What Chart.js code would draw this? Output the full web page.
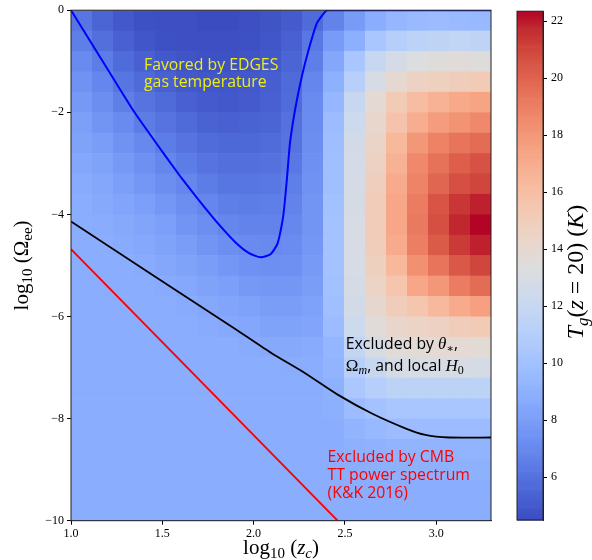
<!DOCTYPE html>
<html>
<head>
<meta charset="utf-8">
<script src="https://cdn.jsdelivr.net/npm/chart.js@4.4.1/dist/chart.umd.min.js"></script>
<style>
  html, body { margin: 0; padding: 0; background: #fff; }
  #wrap { position: relative; width: 592px; height: 560px; }
  #wrap canvas { position: absolute; left: 0; top: 0; }
</style>
</head>
<body>
<div id="wrap">
  <canvas id="main" width="592" height="560"></canvas>
  <canvas id="cbar" width="592" height="560"></canvas>
</div>
<script>
/* ---------- data ---------- */
const ZC_MIN = 1.0, ZC_MAX = 3.3;       // log10(z_c) range of the grid
const OM_MIN = -10, OM_MAX = 0;         // log10(Omega_ee) range of the grid
const TG_MIN = 4.5, TG_MAX = 22.35;     // colour range, K

const xTicks = [1.0, 1.5, 2.0, 2.5, 3.0];
const yTicks = [0, -2, -4, -6, -8, -10];
const cbTicks = [6, 8, 10, 12, 14, 16, 18, 20, 22];

// T_g(z=20) on a 20 (z_c) x 25 (Omega_ee) grid, rows from log10(Omega)=0 downwards
const tgRows = [
  [6.2, 5.5, 5.0, 4.7, 4.6, 4.6, 4.5, 4.5, 4.6, 4.8, 5.1, 5.7, 6.8, 7.9, 8.8, 9.4, 9.6, 9.7, 9.6, 9.5],
  [6.6, 5.9, 5.3, 4.9, 4.7, 4.6, 4.6, 4.6, 4.7, 4.9, 5.3, 6.3, 7.9, 8.9, 10.4, 11.1, 11.4, 11.6, 11.7, 11.6],
  [7.1, 6.5, 5.8, 5.3, 5.0, 4.8, 4.7, 4.7, 4.8, 5.0, 5.5, 6.6, 8.5, 10.4, 12.1, 12.8, 13.3, 13.5, 13.6, 13.5],
  [7.5, 6.9, 6.2, 5.7, 5.3, 5.0, 4.9, 4.9, 5.0, 5.2, 5.7, 6.9, 9.0, 11.2, 13.0, 14.0, 14.6, 14.8, 15.0, 15.2],
  [7.8, 7.3, 6.6, 6.1, 5.7, 5.3, 5.1, 5.0, 5.1, 5.3, 5.8, 7.1, 9.4, 12.1, 13.9, 15.2, 16.1, 16.7, 17.2, 17.4],
  [8.1, 7.6, 7.1, 6.5, 6.1, 5.7, 5.4, 5.3, 5.4, 5.5, 6.0, 7.2, 9.7, 12.4, 14.2, 15.7, 17.0, 17.8, 18.2, 18.6],
  [8.3, 8.0, 7.5, 7.0, 6.5, 6.1, 5.8, 5.6, 5.6, 5.8, 6.1, 7.3, 9.8, 12.7, 14.4, 16.4, 18.0, 18.9, 19.4, 19.7],
  [8.5, 8.3, 7.8, 7.4, 6.9, 6.5, 6.1, 5.9, 5.9, 6.0, 6.3, 7.4, 9.9, 12.8, 14.7, 16.7, 18.6, 19.5, 20.2, 20.6],
  [8.7, 8.5, 8.1, 7.7, 7.3, 6.9, 6.5, 6.2, 6.2, 6.3, 6.6, 7.5, 9.9, 12.8, 14.9, 17.1, 18.8, 19.9, 20.7, 21.0],
  [8.8, 8.6, 8.4, 8.1, 7.7, 7.3, 6.9, 6.6, 6.5, 6.6, 6.8, 7.6, 10.0, 12.9, 15.1, 17.3, 19.1, 20.5, 21.4, 21.9],
  [8.8, 8.75, 8.6, 8.4, 8.1, 7.6, 7.3, 6.9, 6.8, 6.8, 6.95, 7.6, 10.1, 13.0, 15.1, 17.3, 19.2, 20.7, 21.8, 22.35],
  [8.8, 8.8, 8.7, 8.55, 8.3, 8.0, 7.6, 7.3, 7.1, 7.05, 7.15, 7.7, 10.1, 13.0, 15.0, 17.1, 19.0, 20.3, 21.3, 21.9],
  [8.8, 8.8, 8.8, 8.7, 8.5, 8.3, 8.0, 7.7, 7.45, 7.35, 7.4, 7.85, 10.1, 13.0, 14.8, 16.4, 18.3, 19.4, 20.4, 21.0],
  [8.8, 8.8, 8.8, 8.8, 8.7, 8.55, 8.3, 8.1, 7.8, 7.7, 7.7, 8.0, 10.0, 12.9, 14.5, 15.6, 17.3, 18.0, 19.1, 19.7],
  [8.8, 8.8, 8.8, 8.8, 8.8, 8.7, 8.55, 8.4, 8.2, 8.0, 8.0, 8.2, 9.9, 12.7, 14.1, 15.0, 15.6, 16.3, 17.1, 17.6],
  [8.8, 8.8, 8.8, 8.8, 8.8, 8.8, 8.7, 8.6, 8.5, 8.3, 8.3, 8.4, 9.7, 12.4, 13.6, 14.2, 14.5, 14.7, 15.0, 15.2],
  [8.8, 8.8, 8.8, 8.8, 8.8, 8.8, 8.8, 8.8, 8.7, 8.6, 8.6, 8.7, 9.3, 11.8, 13.0, 13.6, 13.8, 13.9, 13.9, 13.8],
  [8.8, 8.8, 8.8, 8.8, 8.8, 8.8, 8.8, 8.8, 8.8, 8.8, 8.75, 8.8, 9.2, 11.2, 12.1, 12.9, 13.0, 13.0, 13.0, 12.9],
  [8.8, 8.8, 8.8, 8.8, 8.8, 8.8, 8.8, 8.8, 8.8, 8.8, 8.8, 8.8, 9.0, 10.5, 11.1, 11.5, 11.5, 11.5, 11.5, 11.5],
  [8.8, 8.8, 8.8, 8.8, 8.8, 8.8, 8.8, 8.8, 8.8, 8.8, 8.8, 8.8, 8.9, 9.7, 10.1, 10.4, 10.4, 10.4, 10.4, 10.4],
  [8.8, 8.8, 8.8, 8.8, 8.8, 8.8, 8.8, 8.8, 8.8, 8.8, 8.8, 8.8, 8.8, 9.2, 9.5, 9.7, 9.7, 9.7, 9.7, 9.7],
  [8.8, 8.8, 8.8, 8.8, 8.8, 8.8, 8.8, 8.8, 8.8, 8.8, 8.8, 8.8, 8.8, 9.0, 9.1, 9.2, 9.2, 9.2, 9.2, 9.2],
  [8.8, 8.8, 8.8, 8.8, 8.8, 8.8, 8.8, 8.8, 8.8, 8.8, 8.8, 8.8, 8.8, 8.8, 8.9, 9.0, 9.0, 9.0, 9.0, 9.0],
  [8.8, 8.8, 8.8, 8.8, 8.8, 8.8, 8.8, 8.8, 8.8, 8.8, 8.8, 8.8, 8.8, 8.8, 8.8, 8.8, 8.8, 8.8, 8.8, 8.8],
  [8.8, 8.8, 8.8, 8.8, 8.8, 8.8, 8.8, 8.8, 8.8, 8.8, 8.8, 8.8, 8.8, 8.8, 8.8, 8.8, 8.8, 8.8, 8.8, 8.8],
];

// "Favored by EDGES" contour (blue)
const edgesX = [1.0, 1.17, 1.342, 1.498, 1.571, 1.608, 1.691, 1.801, 1.910, 1.975, 2.038, 2.093, 2.130, 2.148, 2.163, 2.181, 2.199, 2.227, 2.264, 2.301, 2.346, 2.392, 2.405, 3.3];
const edgesY = [0, -0.98, -1.97, -2.76, -3.12, -3.30, -3.68, -4.16, -4.58, -4.76, -4.84, -4.78, -4.58, -4.32, -4.01, -3.36, -2.61, -1.95, -1.30, -0.78, -0.26, -0.03, 0, 0];
// theta_*, Omega_m, local H0 bound (black)
const thetaX = [1.0, 1.910, 2.099, 2.282, 2.465, 2.648, 2.831, 2.941, 3.070, 3.3];
const thetaY = [-4.14, -6.27, -6.72, -7.11, -7.54, -7.90, -8.19, -8.32, -8.37, -8.37];
// CMB TT bound, K&K 2016 (red)
const cmbX = [1.0, 2.46];
const cmbY = [-4.68, -10];

/* ---------- coolwarm ---------- */
const COOLWARM = [[59,76,192],[68,90,204],[77,104,215],[87,117,225],[98,130,234],[108,142,241],[119,154,247],[130,165,251],[141,176,254],[152,185,255],[163,194,255],[174,201,253],[184,208,249],[194,213,244],[204,217,238],[213,219,230],[221,221,221],[229,216,209],[236,211,197],[241,204,185],[245,196,173],[247,187,160],[247,177,148],[247,166,135],[244,154,123],[241,141,111],[236,127,99],[229,112,88],[222,96,77],[213,80,66],[203,62,56],[192,40,47],[180,4,38]];
function coolwarm(v) {
  let t = (v - TG_MIN) / (TG_MAX - TG_MIN);
  t = Math.min(1, Math.max(0, t)) * (COOLWARM.length - 1);
  const i = Math.min(COOLWARM.length - 2, Math.floor(t)), f = t - i;
  const a = COOLWARM[i], b = COOLWARM[i + 1];
  return `rgb(${a.map((c, k) => Math.round(c + (b[k] - c) * f)).join(",")})`;
}

const SERIF = '"Liberation Serif", "DejaVu Serif", serif';
const SANS = '"Open Sans", "DejaVu Sans", sans-serif';
const TICK_FONT = { family: SERIF, size: 12 };

/* rich text: segments with their own font and baseline shift */
function drawRich(ctx, segs, x, y, align) {
  let w = 0;
  segs.forEach((s) => { ctx.font = s.font; w += ctx.measureText(s.t).width; });
  let cx = align === "center" ? x - w / 2 : x;
  segs.forEach((s) => {
    ctx.font = s.font;
    ctx.fillText(s.t, cx, y + (s.dy || 0));
    cx += ctx.measureText(s.t).width;
  });
}

const pts = (xs, ys) => xs.map((x, i) => ({ x, y: ys[i] }));

const heatmapPlugin = {
  id: "heatmap",
  beforeDatasetsDraw(chart) {
    const { ctx, chartArea: a, scales: { x, y } } = chart;
    const nR = tgRows.length, nC = tgRows[0].length;
    const dx = (ZC_MAX - ZC_MIN) / nC, dy = (OM_MAX - OM_MIN) / nR;
    ctx.save();
    ctx.beginPath();
    ctx.rect(a.left, a.top, a.right - a.left, a.bottom - a.top);
    ctx.clip();
    tgRows.forEach((row, r) => row.forEach((v, c) => {
      const x0 = x.getPixelForValue(ZC_MIN + c * dx), x1 = x.getPixelForValue(ZC_MIN + (c + 1) * dx);
      const y0 = y.getPixelForValue(OM_MAX - r * dy), y1 = y.getPixelForValue(OM_MAX - (r + 1) * dy);
      ctx.fillStyle = coolwarm(v);
      ctx.fillRect(x0, y0, x1 - x0 + 0.6, y1 - y0 + 0.6);
    }));
    ctx.restore();
  },
  afterDraw(chart) {
    const { ctx, chartArea: a, scales: { x, y } } = chart;
    ctx.save();
    ctx.strokeStyle = "#222";
    ctx.lineWidth = 1;
    ctx.strokeRect(a.left, a.top, a.right - a.left, a.bottom - a.top);

    ctx.textBaseline = "alphabetic";
    // annotations
    const s = `15.8px ${SANS}`, m = `italic 17px ${SERIF}`, sub = `11px ${SERIF}`;
    ctx.fillStyle = "#eeee10";
    ctx.font = s;
    ctx.fillText("Favored by EDGES", x.getPixelForValue(1.40), y.getPixelForValue(-1.17));
    ctx.fillText("gas temperature", x.getPixelForValue(1.40), y.getPixelForValue(-1.51));

    ctx.fillStyle = "#000";
    drawRich(ctx, [{ t: "Excluded by ", font: s }, { t: "θ", font: m }, { t: "∗", font: sub, dy: 3 }, { t: ",", font: s }],
      x.getPixelForValue(2.505), y.getPixelForValue(-6.63));
    drawRich(ctx, [{ t: "Ω", font: `17px ${SERIF}` }, { t: "m", font: `italic 12px ${SERIF}`, dy: 3 }, { t: ", and local ", font: s },
      { t: "H", font: m }, { t: "0", font: `12px ${SERIF}`, dy: 3 }],
      x.getPixelForValue(2.505), y.getPixelForValue(-7.06));

    ctx.fillStyle = "#f00";
    ctx.font = s;
    ["Excluded by CMB", "TT power spectrum", "(K&K 2016)"].forEach((t, i) => {
      ctx.fillText(t, x.getPixelForValue(2.405), y.getPixelForValue(-8.85 - 0.355 * i));
    });

    // axis titles
    ctx.fillStyle = "#000";
    drawRich(ctx, [{ t: "log", font: `21px ${SERIF}` }, { t: "10", font: `15px ${SERIF}`, dy: 4 },
      { t: " (", font: `21px ${SERIF}` }, { t: "z", font: `italic 21px ${SERIF}` }, { t: "c", font: `italic 15px ${SERIF}`, dy: 4 },
      { t: ")", font: `21px ${SERIF}` }], (a.left + a.right) / 2, 554, "center");
    ctx.translate(28, (a.top + a.bottom) / 2);
    ctx.rotate(-Math.PI / 2);
    drawRich(ctx, [{ t: "log", font: `21px ${SERIF}` }, { t: "10", font: `15px ${SERIF}`, dy: 4 },
      { t: " (", font: `21px ${SERIF}` }, { t: "Ω", font: `21px ${SERIF}` }, { t: "ee", font: `15px ${SERIF}`, dy: 4 },
      { t: ")", font: `21px ${SERIF}` }], 0, 0, "center");
    ctx.restore();
  },
};

new Chart(document.getElementById("main"), {
  type: "scatter",
  data: {
    datasets: [
      { data: pts(edgesX, edgesY), showLine: true, borderColor: "#0000ff", borderWidth: 2, pointRadius: 0, tension: 0.2 },
      { data: pts(thetaX, thetaY), showLine: true, borderColor: "#000", borderWidth: 1.8, pointRadius: 0, tension: 0.2 },
      { data: pts(cmbX, cmbY), showLine: true, borderColor: "#ff0000", borderWidth: 1.8, pointRadius: 0 },
    ],
  },
  options: {
    responsive: false,
    animation: false,
    devicePixelRatio: 1,
    layout: { padding: { left: 0, top: 9, right: 101, bottom: 0 } },
    plugins: { legend: { display: false }, tooltip: { enabled: false } },
    scales: {
      x: {
        type: "linear", min: ZC_MIN, max: ZC_MAX,
        afterBuildTicks: (sc) => { sc.ticks = xTicks.map((v) => ({ value: v })); },
        afterFit: (sc) => { sc.height = 39.3; },
        ticks: { callback: (v) => v.toFixed(1), font: TICK_FONT, color: "#000", padding: 2, maxRotation: 0, autoSkip: false },
        grid: { drawOnChartArea: false, tickLength: 4, tickColor: "#000" },
        border: { display: true, color: "#222" },
      },
      y: {
        type: "linear", min: OM_MIN, max: OM_MAX,
        afterBuildTicks: (sc) => { sc.ticks = yTicks.map((v) => ({ value: v })); },
        afterFit: (sc) => { sc.width = 71; },
        ticks: { callback: (v) => (v < 0 ? "\u2212" + Math.abs(v) : String(v)), font: TICK_FONT, color: "#000", padding: 3, autoSkip: false },
        grid: { drawOnChartArea: false, tickLength: 4, tickColor: "#000" },
        border: { display: true, color: "#222" },
      },
    },
  },
  plugins: [heatmapPlugin],
});

/* ---------- colour bar ---------- */
const colorbarPlugin = {
  id: "colorbar",
  beforeDatasetsDraw(chart) {
    const { ctx, chartArea: a, scales: { y } } = chart;
    const n = 240, step = (TG_MAX - TG_MIN) / n;
    ctx.save();
    for (let i = 0; i < n; i++) {
      const v0 = TG_MIN + i * step, v1 = v0 + step;
      const p0 = y.getPixelForValue(v0), p1 = y.getPixelForValue(v1);
      ctx.fillStyle = coolwarm(v0 + step / 2);
      ctx.fillRect(a.left, p1, a.right - a.left, p0 - p1 + 0.6);
    }
    ctx.restore();
  },
  afterDraw(chart) {
    const { ctx, chartArea: a } = chart;
    ctx.save();
    ctx.strokeStyle = "#222";
    ctx.lineWidth = 1;
    ctx.strokeRect(a.left, a.top, a.right - a.left, a.bottom - a.top);
    ctx.fillStyle = "#000";
    ctx.textBaseline = "alphabetic";
    ctx.translate(583, 272);
    ctx.rotate(-Math.PI / 2);
    const f = 24, fs = 17;
    drawRich(ctx, [{ t: "T", font: `italic ${f}px ${SERIF}` }, { t: "g", font: `italic ${fs}px ${SERIF}`, dy: 5 },
      { t: "(", font: `${f}px ${SERIF}` }, { t: "z", font: `italic ${f}px ${SERIF}` }, { t: " = 20) (", font: `${f}px ${SERIF}` },
      { t: "K", font: `italic ${f}px ${SERIF}` }, { t: ")", font: `${f}px ${SERIF}` }], 0, 0, "center");
    ctx.restore();
  },
};

new Chart(document.getElementById("cbar"), {
  type: "scatter",
  data: { datasets: [] },
  options: {
    responsive: false,
    animation: false,
    devicePixelRatio: 1,
    layout: { padding: { left: 517, top: 9, right: 592 - 543 - 30, bottom: 40 } },
    plugins: { legend: { display: false }, tooltip: { enabled: false } },
    scales: {
      x: { display: false, min: 0, max: 1 },
      y: {
        position: "right", min: TG_MIN, max: TG_MAX,
        afterBuildTicks: (sc) => { sc.ticks = cbTicks.map((v) => ({ value: v })); },
        afterFit: (sc) => { sc.width = 30; },
        ticks: { font: TICK_FONT, color: "#000", padding: 4, autoSkip: false },
        grid: { drawOnChartArea: false, tickLength: 4, tickColor: "#000" },
        border: { display: true, color: "#222" },
      },
    },
  },
  plugins: [colorbarPlugin],
});
</script>
</body>
</html>
